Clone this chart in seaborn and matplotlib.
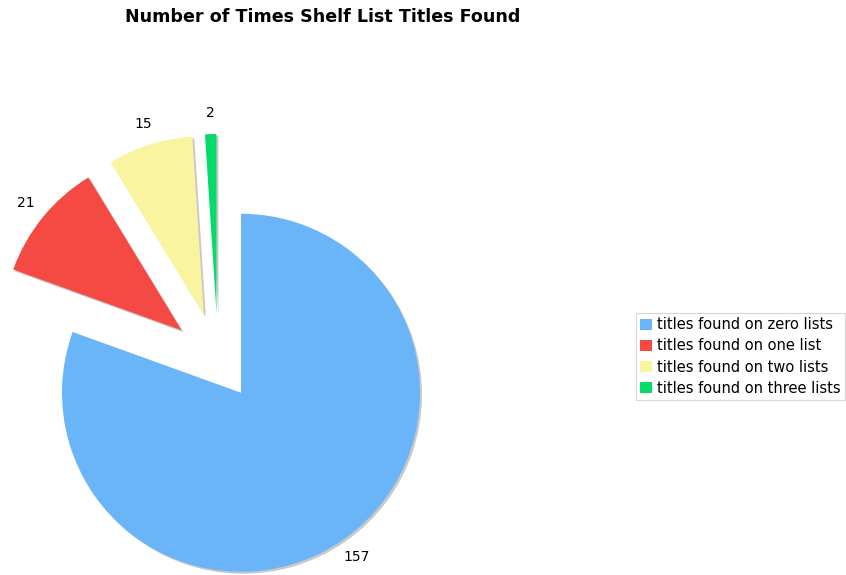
import matplotlib
matplotlib.use("Agg")
import matplotlib.pyplot as plt
import seaborn as sns
from matplotlib.patches import Patch

sns.set_theme(style="white")
plt.rcParams['font.family'] = ['DejaVu Sans']
plt.rcParams['text.color'] = 'black'

# Data
categories = ["titles found on zero lists", "titles found on one list",
              "titles found on two lists", "titles found on three lists"]
counts = [157, 21, 15, 2]
colors = sns.color_palette(["#6AB4F8", "#F44A43", "#F9F4A0", "#05DB6A"])

total = sum(counts)

fig = plt.figure(figsize=(8.46, 5.75), dpi=100)
ax = fig.add_axes([0, 0, 1, 1])

radius = 179
center = (218, 215)
explode = [40, 47, 47, 47]

# soft gray drop shadow under each wedge
ax.pie(counts, radius=radius, center=(center[0] + 2, center[1] - 2),
       explode=explode, startangle=90, counterclock=False,
       colors=["#c8c8c8"] * len(counts), frame=True,
       wedgeprops=dict(linewidth=0))

wedges, texts, autotexts = ax.pie(
    counts, radius=radius, center=center, explode=explode,
    startangle=90, counterclock=False, colors=colors, frame=True,
    wedgeprops=dict(linewidth=0),
    autopct=lambda p: f"{round(p * total / 100)}", pctdistance=1.12,
    textprops=dict(fontsize=10, color="black"))

ax.set_xlim(0, 846)
ax.set_ylim(0, 575)
ax.set_aspect("equal")
ax.axis("off")

fig.text(323 / 846, 1 - 17 / 575, "Number of Times Shelf List Titles Found",
         ha="center", va="center", fontsize=12.6, fontweight="bold",
         color="black")

handles = [Patch(facecolor=c, edgecolor="none") for c in colors]
leg = fig.legend(handles, categories, loc="center left",
                 bbox_to_anchor=(636 / 846, 1 - 356.5 / 575),
                 fontsize=10.5, frameon=True, fancybox=False,
                 handlelength=0.8, handleheight=0.8, handletextpad=0.35,
                 labelspacing=0.42, borderpad=0.3, borderaxespad=0)
for t in leg.get_texts():
    t.set_color("black")
leg.get_frame().set_edgecolor("#cccccc")
leg.get_frame().set_linewidth(0.8)

fig.savefig("out.png", dpi=100)
